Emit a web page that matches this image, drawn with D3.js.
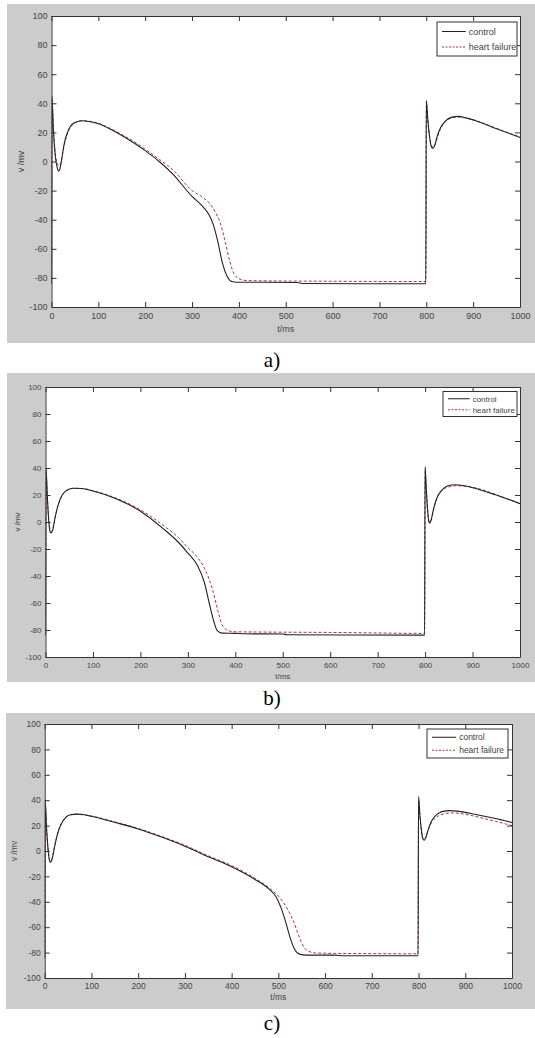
<!DOCTYPE html>
<html>
<head>
<meta charset="utf-8">
<script src="https://cdn.jsdelivr.net/npm/d3@7"></script>
<style>
  body { margin: 0; background: #fff; }
  svg { display: block; }
  .tick text { font-family: "Liberation Sans Narrow", "Arial Narrow", "Liberation Sans", sans-serif; fill: #444; }
</style>
</head>
<body>
<svg id="chart" width="535" height="1038"></svg>
<script>
// Data: [t (ms), v (mV)]
var controlA = [[0,-84],[1,43],[4,22],[8,4],[12,-4],[15,-6.5],[18,-5],[22,2],[27,12],[33,19],[40,24],[50,26.8],[65,28],[80,27.5],[100,26],[130,21.5],[160,16],[200,7.5],[230,0],[260,-9],[300,-24],[320,-30],[335,-36],[345,-43],[355,-55],[365,-70],[375,-79],[385,-82.5],[395,-83],[450,-83],[525,-83.2],[535,-83.8],[650,-84],[799,-84],[800,42],[803,30],[807,17],[811,10],[814,9],[818,11],[823,17],[830,23],[840,27.5],[855,30.5],[868,31],[885,30],[910,27.5],[950,22.5],[1000,16.5]];
var heartFailureA = [[0,-84],[1,45],[4,24],[8,6],[12,-1],[16,-3],[20,-1],[25,8],[30,15],[38,22],[50,26.5],[65,28],[80,27.7],[100,26.3],[130,22],[160,16.8],[200,8.5],[230,1.5],[260,-6],[300,-20],[320,-24],[335,-28],[350,-35],[360,-42],[370,-54],[380,-68],[390,-77.5],[400,-80.5],[415,-81.8],[450,-82],[600,-82.3],[799,-82.5],[800,41],[803,29],[807,17],[811,11],[815,10],[820,13],[826,19],[835,25],[850,29.5],[868,30.5],[890,29.5],[920,26.5],[960,21.5],[1000,17]];

var controlB = [[0,-84],[1,40],[4,18],[7,0],[10,-7.5],[12,-8],[15,-6],[20,3],[27,13],[35,20],[45,23.5],[59,25],[75,24.8],[100,23],[150,17],[200,8],[250,-5.5],[280,-15],[300,-23],[320,-32],[335,-45],[345,-60],[355,-74],[362,-80.5],[372,-82.3],[400,-82.5],[420,-82.8],[500,-83],[510,-83.5],[799,-83.8],[800,41],[802,28],[805,10],[808,0],[810,-0.7],[813,2],[818,10],[825,18],[835,23.5],[848,26.8],[862,27.6],[880,27],[910,24.5],[950,20],[1000,13.6]];
var heartFailureB = [[0,-84],[1,38],[4,17],[7,1],[10,-6],[13,-7],[17,-3],[22,6],[28,14],[36,20],[46,23.5],[60,25],[80,24.8],[100,23.2],[150,17.5],[200,9],[250,-3],[280,-11.5],[300,-19],[320,-26],[340,-38],[352,-50],[362,-64],[372,-76],[385,-80.5],[400,-81.3],[450,-81.5],[600,-81.8],[799,-82.5],[800,39],[802,27],[805,10],[808,1],[811,0],[814,3],[819,11],[826,18.5],[836,23.5],[850,26],[865,26.8],[885,26.5],[915,24.5],[955,19.5],[1000,13.5]];

var controlC = [[0,-84],[1,40],[4,18],[8,-2],[11,-8.5],[13,-8.8],[16,-6],[21,3],[27,13],[35,21],[45,26.5],[55,28.5],[68,29],[85,28.5],[100,27.3],[150,22.5],[200,17.4],[250,11],[300,3.8],[350,-4.5],[400,-12.4],[450,-22.4],[480,-30],[495,-36],[505,-44],[515,-55],[525,-68],[535,-77.5],[545,-81.2],[560,-82],[620,-82],[640,-82.5],[799,-82.5],[800,43],[803,28],[806,17],[809,10],[812,8.5],[815,10],[820,16],[827,23],[837,28],[850,31],[868,31.8],[890,31],[920,29],[960,26],[1000,22.5]];
var heartFailureC = [[0,-84],[1,38],[4,17],[8,-1],[11,-7],[14,-7.5],[17,-4],[22,5],[28,14],[36,21.5],[46,26.5],[56,28.5],[70,29],[100,27.5],[150,23],[200,17.8],[250,11.5],[300,4.5],[350,-3.8],[400,-11.5],[450,-21.5],[480,-29],[500,-35.5],[520,-46],[532,-55],[543,-66],[552,-74],[562,-78.5],[580,-80.3],[620,-80.6],[700,-80.8],[799,-81],[800,40],[803,27],[806,16],[809,10],[812,9],[816,11],[821,17],[828,22.5],[838,26.5],[852,29],[870,30],[895,29.2],[930,26.5],[965,23.3],[1000,20]];

var xTicks = [0, 100, 200, 300, 400, 500, 600, 700, 800, 900, 1000];
var yTicks = [-100, -80, -60, -40, -20, 0, 20, 40, 60, 80, 100];
var seriesNames = ["control", "heart failure"];
var captions = ["a)", "b)", "c)"];

// panel layout (pixels)
var panels = [
    { control: controlA, hf: heartFailureA, caption: captions[0],
      bg: [7, 4, 528, 339], l: 51.5, r: 520, t: 16, b: 307, fs: 9,
      yLabX: 24, xLabY: 332, leg: [437, 22, 80, 34], capY: 367 },
    { control: controlB, hf: heartFailureB, caption: captions[1],
      bg: [7, 373, 528, 309], l: 45.5, r: 520, t: 387, b: 657, fs: 8,
      yLabX: 20, xLabY: 679, leg: [443, 391.5, 74, 25], capY: 705 },
    { control: controlC, hf: heartFailureC, caption: captions[2],
      bg: [6, 713, 529, 296], l: 44.7, r: 512, t: 724, b: 978, fs: 8.5,
      yLabX: 17, xLabY: 1000, leg: [427, 729, 81, 29], capY: 1030 }
];

var svg = d3.select("#chart");
var narrow = '"Liberation Sans Narrow", "Arial Narrow", "Liberation Sans", sans-serif';
var plain = function (d) { return String(d); };  // matlab style: "-100", "1000"

panels.forEach(function (p) {
    var g = svg.append("g");

    g.append("rect")
        .attr("x", p.bg[0]).attr("y", p.bg[1])
        .attr("width", p.bg[2]).attr("height", p.bg[3])
        .attr("fill", "#cccccc");

    var x = d3.scaleLinear().domain([0, 1000]).range([p.l, p.r]);
    var y = d3.scaleLinear().domain([-100, 100]).range([p.b, p.t]);

    g.append("rect")
        .attr("x", p.l).attr("y", p.t)
        .attr("width", p.r - p.l).attr("height", p.b - p.t)
        .attr("fill", "#fff");

    // clip for curves
    var clipId = "clip" + p.caption.charAt(0);
    g.append("clipPath").attr("id", clipId)
        .append("rect")
        .attr("x", p.l).attr("y", p.t)
        .attr("width", p.r - p.l).attr("height", p.b - p.t);

    var line = d3.line()
        .x(function (d) { return x(d[0]); })
        .y(function (d) { return y(d[1]); })
        .curve(d3.curveMonotoneX);

    var curves = g.append("g").attr("clip-path", "url(#" + clipId + ")");
    curves.append("path").datum(p.hf)
        .attr("d", line)
        .attr("fill", "none")
        .attr("stroke", "#a83a3a")
        .attr("stroke-width", 1)
        .attr("stroke-dasharray", "3,2");
    curves.append("path").datum(p.control)
        .attr("d", line)
        .attr("fill", "none")
        .attr("stroke", "#222")
        .attr("stroke-width", 1.1);

    // axes, ticks pointing inward like matlab
    var ax = function (axis, tx, ty) {
        return g.append("g")
            .attr("transform", "translate(" + tx + "," + ty + ")")
            .call(axis);
    };
    var bottom = ax(d3.axisBottom(x).tickValues(xTicks).tickFormat(plain).tickSizeInner(-5).tickSizeOuter(0).tickPadding(7), 0, p.b);
    var top = ax(d3.axisTop(x).tickValues(xTicks).tickSizeInner(-5).tickSizeOuter(0).tickFormat(""), 0, p.t);
    var left = ax(d3.axisLeft(y).tickValues(yTicks).tickFormat(plain).tickSizeInner(-5).tickSizeOuter(0).tickPadding(4), p.l, 0);
    var right = ax(d3.axisRight(y).tickValues(yTicks).tickSizeInner(-5).tickSizeOuter(0).tickFormat(""), p.r, 0);

    [bottom, top, left, right].forEach(function (a) {
        a.select(".domain").attr("stroke", "#333");
        a.selectAll(".tick line").attr("stroke", "#333");
        a.selectAll(".tick text").attr("font-size", p.fs).attr("fill", "#4a4450");
    });
    bottom.selectAll(".tick text").attr("dy", "0.5em");

    // axis labels
    g.append("text")
        .attr("x", (p.l + p.r) / 2).attr("y", p.xLabY)
        .attr("text-anchor", "middle")
        .attr("font-family", narrow).attr("font-size", p.fs)
        .attr("fill", "#444")
        .text("t/ms");
    g.append("text")
        .attr("transform", "translate(" + p.yLabX + "," + (p.t + p.b) / 2 + ")rotate(-90)")
        .attr("text-anchor", "middle")
        .attr("font-family", narrow).attr("font-size", p.fs)
        .attr("fill", "#444")
        .text("v /mv");

    // legend
    var lg = g.append("g").attr("transform", "translate(" + p.leg[0] + "," + p.leg[1] + ")");
    lg.append("rect")
        .attr("width", p.leg[2]).attr("height", p.leg[3])
        .attr("fill", "#fff").attr("stroke", "#333").attr("stroke-width", 1);
    var rowH = p.leg[3] / 2;
    seriesNames.forEach(function (name, i) {
        var cy = rowH * (i + 0.5) + (i === 0 ? 1 : -0.5);
        lg.append("line")
            .attr("x1", 5).attr("x2", p.leg[2] * 0.36)
            .attr("y1", cy).attr("y2", cy)
            .attr("stroke", i === 0 ? "#222" : "#a83a3a")
            .attr("stroke-width", 1)
            .attr("stroke-dasharray", i === 0 ? null : "2,1.5");
        lg.append("text")
            .attr("x", p.leg[2] * 0.36 + 3).attr("y", cy)
            .attr("dy", "0.35em")
            .attr("font-family", narrow).attr("font-size", p.fs)
            .attr("fill", "#444")
            .text(name);
    });

    // caption under the panel
    svg.append("text")
        .attr("x", 272).attr("y", p.capY)
        .attr("text-anchor", "middle")
        .attr("font-family", '"Liberation Serif", "Times New Roman", serif')
        .attr("font-size", 21)
        .attr("fill", "#000")
        .text(p.caption);
});
</script>
</body>
</html>
